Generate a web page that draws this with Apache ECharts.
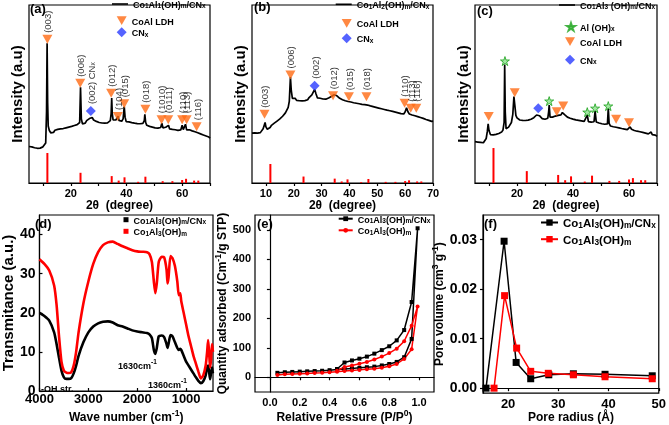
<!DOCTYPE html>
<html>
<head>
<meta charset="utf-8">
<script src="https://cdn.jsdelivr.net/npm/echarts/dist/echarts.min.js"></script>
<style>
  html, body { margin: 0; padding: 0; background: #fff; }
  #chart { width: 669px; height: 425px; }
</style>
</head>
<body>
<div id="chart"></div>
<script>
  // XRD patterns (2theta, intensity a.u.)
  const aCurve = [[5,20.5],[5.5,19.6],[6,20.3],[6.5,19.4],[7,19.8],[7.5,18.9],[8,19.5],[8.5,18.7],[9,19.6],[9.5,19.2],[10,20.3],[10.5,20.6],[11,22.5],[11.3,40],[11.5,78.5],[11.7,45],[11.9,32],[12.3,29.5],[12.8,28.2],[13.3,29.3],[13.8,28.4],[14.3,29.6],[14.8,28.9],[15.3,30.1],[15.8,29.2],[16.3,30.4],[16.8,29.5],[17.3,30.6],[17.8,29.8],[18.3,31],[18.8,30.2],[19.3,31.4],[19.8,30.7],[20.3,31.8],[20.8,31],[21.3,32.3],[21.8,31.6],[22.3,32.8],[22.8,32.3],[23.2,34],[23.5,53.8],[23.8,36],[24.2,33.2],[24.7,34.3],[25.2,33.6],[25.7,35],[26.2,34.6],[26.7,36.2],[27.2,35.7],[27.7,36.8],[28.2,35.4],[28.7,35.8],[29.2,34.6],[29.7,35.1],[30.2,34],[30.7,34.6],[31.2,33.7],[31.7,34.4],[32.2,33.6],[32.7,34.5],[33.2,33.8],[33.7,34.9],[34.2,35],[34.5,39],[34.7,47.8],[34.9,39],[35.2,35.5],[35.7,34.6],[36.2,35.4],[36.7,35.8],[37,37.5],[37.3,35.2],[37.8,35.8],[38.3,34.7],[38.8,36],[39.2,43],[39.5,37],[39.9,34.5],[40.4,33.6],[40.9,34.3],[41.4,33.2],[41.9,33.9],[42.4,32.9],[42.9,33.6],[43.4,32.7],[43.9,33.4],[44.4,32.6],[44.9,33.3],[45.4,32.5],[45.9,33.5],[46.4,35],[46.6,38.6],[46.9,34],[47.3,32.4],[47.8,32.9],[48.3,31.8],[48.8,32.4],[49.3,31.4],[49.8,32],[50.3,31],[50.8,31.7],[51.3,30.8],[51.8,31.5],[52.3,31.2],[52.7,33.6],[53.1,31],[53.6,30.6],[54.1,31.3],[54.6,30.8],[55.1,32.4],[55.5,30.4],[56,31],[56.5,30.1],[57,30.7],[57.5,29.9],[58,30.5],[58.5,29.6],[59,30.3],[59.5,29.8],[60,32.4],[60.4,30],[60.9,30.6],[61.2,33],[61.6,29.8],[62.1,29.4],[62.6,29.9],[63.1,28.8],[63.6,29.3],[64.1,28.3],[64.6,28.8],[65.1,27.8],[65.6,28.2],[66.1,27.2],[66.6,27.6],[67.1,26.6],[67.6,27],[68.1,26],[68.6,26.4],[69.1,25.4],[69.6,25.8],[70,25.2]];
  const bCurve = [[5,28],[5.5,27.3],[6,28.2],[6.5,27.4],[7,28],[7.5,27.2],[8,28.3],[8.5,28.8],[9,30.5],[9.4,32.5],[9.7,34],[10,31.5],[10.5,30.2],[11,30.8],[11.5,31.2],[12,32.4],[12.5,32.2],[13,33.6],[13.5,33.4],[14,34.8],[14.5,34.6],[15,36],[15.5,36.2],[16,37.5],[16.5,37.8],[17,39.4],[17.5,40.2],[18,42.5],[18.4,46],[18.8,59.5],[19.1,52],[19.5,47.5],[20,46.8],[20.5,47.6],[21,46.4],[21.5,47.3],[22,46.2],[22.5,47],[23,46.1],[23.5,47.1],[24,46.3],[24.5,47.4],[25,46.8],[25.5,48],[26,47.9],[26.5,49.5],[27,50.5],[27.5,52.6],[28,50],[28.5,47.8],[29,47],[29.5,47.6],[30,46.5],[30.5,47.2],[31,46.4],[31.5,47.1],[32,46.8],[32.5,47.8],[33,47.5],[33.5,48.6],[34,48.3],[34.5,49.6],[35,49.8],[35.5,49],[36,48.4],[36.5,47.6],[37,47.8],[37.5,46.8],[38,47.2],[38.5,46.2],[39,46.8],[39.5,45.8],[40,46.4],[40.5,45.5],[41,46],[41.5,45.1],[42,45.7],[42.5,44.8],[43,45.4],[43.5,44.5],[44,45.1],[44.5,44.2],[45,44.9],[45.5,44],[46,44.8],[46.5,43.8],[47,44.3],[47.5,43.3],[48,43.8],[48.5,42.9],[49,43.4],[49.5,42.5],[50,43],[50.5,42.1],[51,42.6],[51.5,41.7],[52,42.2],[52.5,41.3],[53,41.8],[53.5,40.9],[54,41.5],[54.5,40.6],[55,41.1],[55.5,40.2],[56,40.7],[56.5,39.8],[57,40.3],[57.5,39.4],[58,39.9],[58.5,39],[59,39.5],[59.5,38.8],[60,40],[60.5,42.2],[61,40],[61.5,38.8],[62,39.2],[62.5,38.2],[63,38.7],[63.5,37.8],[64,38.2],[64.5,37.3],[65,37.7],[65.5,36.8],[66,37.2],[66.5,36.3],[67,36.6],[67.5,35.7],[68,36.1],[68.5,35.2],[69,35.5],[69.5,34.6],[70,34.8]];
  const cCurve = [[5,23.2],[5.5,22.5],[6,23],[6.5,22.2],[7,22.8],[7.5,22],[8,22.6],[8.5,23],[9,25],[9.4,29],[9.7,33.2],[10,29.5],[10.5,27.2],[11,27.6],[11.5,27],[12,27.8],[12.5,27.3],[13,28.2],[13.5,27.8],[14,28.8],[14.5,28.6],[15,29.8],[15.4,34],[15.6,66.5],[15.8,40],[16.1,30.5],[16.5,30.8],[17,31.4],[17.5,32.3],[18,34],[18.5,38.5],[18.9,48.5],[19.2,44],[19.6,38],[20,36.6],[20.5,36.2],[21,35.4],[21.5,36],[22,35.2],[22.5,35.8],[23,35.1],[23.5,35.7],[24,35.3],[24.5,36.2],[25,35.8],[25.5,36.8],[26,36.7],[26.5,37.8],[27,38.2],[27.5,39.3],[28,37.8],[28.5,36.8],[29,36.2],[29.5,36.6],[30,35.8],[30.5,36.5],[31,36.4],[31.3,40],[31.5,43.8],[31.8,37],[32.2,36.4],[32.7,37],[33.2,36.6],[33.7,37.6],[34.2,38.6],[34.7,38],[35.2,38.8],[35.7,38.3],[36.2,39.6],[36.6,40.6],[37,38.4],[37.5,37.4],[38,37],[38.5,36.2],[39,36.4],[39.5,35.5],[40,35.9],[40.5,35],[41,35.5],[41.5,34.6],[42,35.2],[42.5,34.3],[43,34.9],[43.5,34],[44,34.6],[44.6,34.4],[45.1,38.2],[45.5,34.5],[46,33.8],[46.5,34.2],[47,33.6],[47.5,34.4],[47.9,40.4],[48.3,34.3],[48.8,33.2],[49.3,33.7],[49.8,32.8],[50.3,33.3],[50.8,32.5],[51.3,33],[51.8,32.3],[52.3,33.2],[52.6,42],[52.9,33.5],[53.4,32],[53.9,32.4],[54.4,31.6],[54.9,32.2],[55.4,31.3],[55.9,31.8],[56.4,31],[56.9,31.4],[57.4,30.6],[57.9,31.1],[58.4,30.3],[58.9,30.7],[59.4,30],[59.9,30.9],[60.4,31.5],[60.9,30.2],[61.4,30.1],[61.9,29.5],[62.4,29.9],[62.9,29.1],[63.4,29.5],[63.9,28.8],[64.4,29.2],[64.9,28.4],[65.4,28.8],[65.9,28],[66.4,28.4],[66.9,27.6],[67.4,28],[67.9,28.6],[68.3,27.2],[68.9,26.8],[69.4,26.9],[70,26.2]];

  // reference pattern sticks (2theta, relative intensity %)
  const refPos = [11.6, 23.5, 34.7, 37.2, 39.3, 44.2, 46.8, 53.0, 56.5, 60.0, 61.4, 64.3, 65.8];
  const refRel = [100, 34, 23, 8, 19, 4, 21, 6, 6, 10, 14, 8, 8];

  // peak markers [2theta, intensity, label]
  const aTri = [[11.6,80.7,'(003)'],[23.4,56,'(006)'],[34.5,50.4,'(012)'],[36.9,37.3,'(104)'],[39.2,44.5,'(015)'],[46.8,41.4,'(018)'],[52.6,35.6,'(1010)'],[55,35.6,'(0111)'],[60,35.6,'(110)'],[61.6,35.6,'(113)'],[65.2,31.6,'(116)']];
  const aDia = [[27.2,40.4,'(002) CN_x']];
  const bTri = [[9.5,38.6,'(003)'],[18.8,60.7,'(006)'],[34.1,49,'(012)'],[39.8,48.5,'(015)'],[46.1,48.5,'(018)'],[59.8,44.8,'(110)'],[62,42,'(113)'],[64,42,'(116)']];
  const bDia = [[27.5,54.7,'(002)']];
  const cTri = [[9.9,37.3,''],[19.2,50.7,''],[34.2,40,''],[36.5,43.3,''],[55.4,35.8,''],[60,33.9,'']];
  const cDia = [[27.6,42,'']];
  const cStar = [[15.7,68.5,''],[31.5,46,''],[45.1,39.8,''],[47.9,42,''],[52.6,43.2,'']];

  // FTIR (wave number cm-1, transmitance)
  const dWave = [4000,3900,3800,3700,3650,3600,3550,3500,3450,3400,3350,3300,3250,3200,3100,3000,2900,2800,2700,2600,2500,2400,2300,2200,2100,2000,1900,1800,1750,1700,1660,1630,1600,1560,1500,1450,1400,1380,1360,1320,1280,1230,1180,1150,1120,1100,1050,1000,950,900,850,800,750,700,650,600,570,550,530,510,490,470,460,450];
  const dBlack = [20,19.2,18,15,12,8.5,5.2,3.5,3.1,3.1,3.3,4.5,6.5,9,12.5,15,16.5,17.3,17.7,17.8,17.5,16.8,16.5,16,15.5,15.2,15,14.8,14.5,13.5,10.5,9.5,11,14,14.2,13.8,12,11,12,14.3,14,12.5,11,10.5,10.8,10.5,9,7.5,6.5,5.5,4.5,3.5,2.6,2,2.5,4,6,6.5,5,3,4.5,6,5,4.5];
  const dRed = [33.7,32.5,30.8,27,22,14,7.5,5.2,4.7,4.6,4.8,6.5,10,15,22.5,28,32.5,35.5,37.3,38,38.2,37.6,37,36.5,36,35.7,35.6,35.5,35,33,28,25,27.5,33,34.3,34.2,31,27.5,29,34.5,34,32,28,24.5,25,23,20,17,14,11.5,9,7,5,3.2,4,6.5,10,13,10,6,8,12,11,10];

  // N2 isotherms (P/P0, quantity adsorbed)
  const eBlackAds = [[0.05,15],[0.1,17],[0.15,18],[0.2,19],[0.25,20],[0.3,21],[0.35,22],[0.4,24],[0.45,26],[0.5,28],[0.55,30],[0.6,32],[0.65,34],[0.7,36],[0.75,40],[0.8,45],[0.85,52],[0.9,68],[0.95,130],[0.99,505]];
  const eBlackDes = [[0.95,255],[0.9,160],[0.85,125],[0.8,105],[0.75,92],[0.7,80],[0.65,70],[0.6,63],[0.55,57],[0.5,50],[0.45,28]];
  const eRedAds = [[0.05,8],[0.1,10],[0.15,11],[0.2,12],[0.25,13],[0.3,14],[0.35,15],[0.4,17],[0.45,19],[0.5,21],[0.55,23],[0.6,25],[0.65,27],[0.7,29],[0.75,32],[0.8,37],[0.85,45],[0.9,62],[0.95,95],[0.99,240]];
  const eRedDes = [[0.95,175],[0.9,122],[0.85,97],[0.8,82],[0.75,70],[0.7,60],[0.65,52],[0.6,46],[0.55,40],[0.5,35],[0.45,22]];

  // pore size distribution (radius A, volume)
  const fBlack = [[15.6,0],[19.2,0.0297],[21.6,0.0052],[24.5,0.0019],[28.1,0.0027],[33,0.0029],[39.3,0.0028],[48.7,0.0025]];
  const fRed = [[17.2,0],[19.3,0.0187],[21.7,0.0081],[24.5,0.0034],[28,0.0030],[33,0.0027],[39.3,0.0023],[48.7,0.0019]];

  const legendText = {
    aLine: 'Co_1Al_1(OH)_m/CN_x', aTri: 'CoAl LDH', aDia: 'CN_x',
    bLine: 'Co_1Al_2(OH)_m/CN_x', bTri: 'CoAl LDH', bDia: 'CN_x',
    cLine: 'Co_1Al_3 (OH)_m/CN_x', cStar: 'Al (OH)_x', cTri: 'CoAl LDH', cDia: 'CN_x',
    dBlack: 'Co_1Al_3(OH)_m/CN_x', dRed: 'Co_1Al_3(OH)_m',
    eBlack: 'Co_1Al_3(OH)_m/CN_x', eRed: 'Co_1Al_3(OH)_m',
    fBlack: 'Co_1Al_3(OH)_m/CN_x', fRed: 'Co_1Al_3(OH)_m'
  };

  const FF = "'Liberation Sans', Arial, sans-serif";
  const TRI = 'path://M0,0L10,0L5,8.7Z';
  const STAR = 'path://M5,0L6.2,3.6L10,3.6L6.9,5.8L8.1,9.5L5,7.2L1.9,9.5L3.1,5.8L0,3.6L3.8,3.6Z';
  const BAR = 'path://M0,0L16,0L16,1.6L0,1.6Z';
  const ORANGE = '#ff6a13';
  const BLUE = '#2a3cff';

  // rich text styles: n normal, b subscript, p superscript
  function rs(fs, fw) {
    const s = Math.round(fs * 0.72 * 10) / 10;
    return {
      n: { fontSize: fs, fontWeight: fw, fontFamily: FF, color: '#000', lineHeight: fs + 3, verticalAlign: 'bottom' },
      b: { fontSize: s, fontWeight: fw, fontFamily: FF, color: '#000', lineHeight: s + 1, verticalAlign: 'bottom' },
      p: { fontSize: s, fontWeight: fw, fontFamily: FF, color: '#000', lineHeight: s + 1, verticalAlign: 'top' }
    };
  }
  function rich(s) {
    let out = '';
    let i = 0;
    while (i < s.length) {
      const c = s[i];
      if (c === '_' || c === '^') {
        let t;
        if (s[i + 1] === '{') { const j = s.indexOf('}', i); t = s.slice(i + 2, j); i = j + 1; }
        else { t = s[i + 1]; i += 2; }
        out += '{' + (c === '_' ? 'b' : 'p') + '|' + t + '}';
      } else {
        let j = i;
        while (j < s.length && s[j] !== '_' && s[j] !== '^') j++;
        out += '{n|' + s.slice(i, j) + '}';
        i = j;
      }
    }
    return out;
  }

  const chart = echarts.init(document.getElementById('chart'));

  const grids = [
    { left: 29, top: 5, width: 181, height: 178 },
    { left: 252, top: 5, width: 181, height: 178 },
    { left: 475, top: 5, width: 182, height: 178 },
    { left: 32, top: 215, width: 181, height: 181 },
    { left: 255, top: 215, width: 179, height: 181 },
    { left: 483, top: 215, width: 179, height: 181 }
  ].map(g => Object.assign(g, { show: true, borderColor: '#000', borderWidth: 1.2 }));

  const line = { show: true, lineStyle: { color: '#000', width: 1.2 } };
  function lab(fs, margin, vals, fmt) {
    return {
      customValues: vals, margin: margin, fontSize: fs, fontWeight: 'bold', color: '#000', fontFamily: FF,
      formatter: fmt || (v => String(v))
    };
  }
  function tick(vals, len, inside) {
    return { customValues: vals, length: len, inside: !!inside, lineStyle: { color: '#000', width: 1.2 } };
  }
  const nameStyle = fs => ({ fontSize: fs, fontWeight: 'bold', color: '#000', fontFamily: FF });

  const xrdX = (i, labels, ticks) => ({
    gridIndex: i, type: 'value', min: 5, max: 70,
    axisLine: line, splitLine: { show: false },
    axisLabel: lab(11, 5, labels), axisTick: tick(ticks, 3),
    name: '2θ  (degree)', nameLocation: 'middle', nameGap: 13, nameTextStyle: nameStyle(12)
  });
  const xrdY = (i) => ({
    gridIndex: i, type: 'value', min: 0, max: 100,
    axisLine: { show: false }, axisTick: { show: false }, axisLabel: { show: false }, splitLine: { show: false },
    name: 'Intensity (a.u)', nameLocation: 'middle', nameGap: 4, nameTextStyle: nameStyle(15)
  });
  const stickY = (i, max) => ({ gridIndex: i, type: 'value', min: 0, max: max, show: false, splitLine: { show: false } });

  const xAxis = [
    xrdX(0, [20, 40, 60], [10, 20, 30, 40, 50, 60, 70]),
    xrdX(1, [10, 20, 30, 40, 50, 60, 70], [10, 20, 30, 40, 50, 60, 70]),
    xrdX(2, [20, 40, 60], [10, 20, 30, 40, 50, 60, 70]),
    {
      gridIndex: 3, type: 'value', min: 450, max: 4000, inverse: true,
      axisLine: line, splitLine: { show: false },
      axisLabel: lab(13, 2, [4000, 3000, 2000, 1000]), axisTick: tick([4000, 3000, 2000, 1000], 3, true),
      name: rich('Wave number (cm^{-1})'), nameLocation: 'middle', nameGap: 18,
      nameTextStyle: { rich: rs(12, 'bold') }
    },
    {
      gridIndex: 4, type: 'value', min: -0.1, max: 1.1,
      axisLine: line, splitLine: { show: false },
      axisLabel: lab(11, 5, [0, 0.2, 0.4, 0.6, 0.8, 1.0], v => v.toFixed(1)), axisTick: tick([0, 0.2, 0.4, 0.6, 0.8, 1.0], 3),
      name: rich('Relative Pressure (P/P^0)'), nameLocation: 'middle', nameGap: 17,
      nameTextStyle: { rich: rs(12, 'bold') }
    },
    {
      gridIndex: 5, type: 'value', min: 15, max: 50,
      axisLine: line, splitLine: { show: false },
      axisLabel: lab(13, 5, [20, 30, 40, 50]), axisTick: tick([20, 30, 40, 50], 3),
      name: 'Pore radius (Å)', nameLocation: 'middle', nameGap: 15, nameTextStyle: nameStyle(12)
    }
  ];

  const yAxis = [
    xrdY(0), xrdY(1), xrdY(2),
    {
      gridIndex: 3, type: 'value', min: 0, max: 45,
      axisLine: line, splitLine: { show: false },
      axisLabel: lab(14, 4, [0, 10, 20, 30, 40]), axisTick: tick([0, 10, 20, 30, 40], 3, true),
      name: 'Transmitance (a.u.)', nameLocation: 'middle', nameGap: 19, nameTextStyle: nameStyle(15)
    },
    {
      gridIndex: 4, type: 'value', min: -50, max: 550,
      axisLine: line, splitLine: { show: false },
      axisLabel: lab(11, 4, [0, 100, 200, 300, 400, 500]), axisTick: tick([0, 100, 200, 300, 400, 500], 3),
      name: rich('Quantity adsorbed (Cm^{-1}/g STP)'), nameLocation: 'middle', nameGap: 21,
      nameTextStyle: { rich: rs(12, 'bold') }
    },
    {
      gridIndex: 5, type: 'value', min: -0.001, max: 0.035,
      axisLine: line, splitLine: { show: false },
      axisLabel: lab(14, 6, [0, 0.01, 0.02, 0.03], v => v.toFixed(2)), axisTick: tick([0, 0.01, 0.02, 0.03], 3),
      name: rich('Pore volume (cm^3 g^{-1})'), nameLocation: 'middle', nameGap: 31,
      nameTextStyle: { rich: rs(12, 'bold') }
    },
    stickY(0, 593), stickY(1, 937), stickY(2, 509)
  ];

  const series = [];
  const peakLabel = {
    show: true, position: 'top', distance: 2, rotate: 90, align: 'left', verticalAlign: 'middle',
    formatter: p => p.name ? rich(p.name) : '', rich: rs(9.5, 'normal')
  };
  const pts = arr => arr.map(t => ({ value: [t[0], t[1]], name: t[2] }));

  [['a', aCurve, aTri, aDia, null], ['b', bCurve, bTri, bDia, null], ['c', cCurve, cTri, cDia, cStar]].forEach((p, i) => {
    const k = p[0];
    series.push({
      name: k + 'Line', type: 'line', xAxisIndex: i, yAxisIndex: i, data: p[1],
      symbol: 'none', color: '#000', lineStyle: { width: 1.7 }, z: 3
    });
    series.push({
      name: k + 'Stick', type: 'bar', xAxisIndex: i, yAxisIndex: 6 + i,
      data: refPos.map((x, j) => [x, refRel[j]]), barWidth: 2, color: '#ff0000'
    });
    series.push({
      name: k + 'Tri', type: 'scatter', xAxisIndex: i, yAxisIndex: i, data: pts(p[2]),
      symbol: TRI, symbolSize: [10, 9], color: ORANGE, label: peakLabel, z: 4
    });
    series.push({
      name: k + 'Dia', type: 'scatter', xAxisIndex: i, yAxisIndex: i, data: pts(p[3]),
      symbol: 'diamond', symbolSize: [10, 10], color: BLUE, label: peakLabel, z: 4
    });
    if (p[4]) {
      series.push({
        name: k + 'Star', type: 'scatter', xAxisIndex: i, yAxisIndex: i, data: pts(p[4]),
        symbol: STAR, symbolSize: [9, 9], color: '#8be08b',
        itemStyle: { borderColor: '#1aa11a', borderWidth: 1 }, z: 4
      });
    }
  });

  series.push(
    { name: 'dBlack', type: 'line', xAxisIndex: 3, yAxisIndex: 3, data: dWave.map((w, j) => [w, dBlack[j]]),
      symbol: 'none', smooth: 0.2, color: '#000', lineStyle: { width: 2.6 } },
    { name: 'dRed', type: 'line', xAxisIndex: 3, yAxisIndex: 3, data: dWave.map((w, j) => [w, dRed[j]]),
      symbol: 'none', smooth: 0.2, color: '#ff0000', lineStyle: { width: 2.6 } },
    { name: 'eBlack', type: 'line', xAxisIndex: 4, yAxisIndex: 4, data: eBlackAds.concat(eBlackDes),
      symbol: 'rect', symbolSize: 4, color: '#000', lineStyle: { width: 1.5 } },
    { name: 'eRed', type: 'line', xAxisIndex: 4, yAxisIndex: 4, data: eRedAds.concat(eRedDes),
      symbol: 'circle', symbolSize: 4, color: '#ff0000', lineStyle: { width: 1.5 } },
    { name: 'fBlack', type: 'line', xAxisIndex: 5, yAxisIndex: 5, data: fBlack,
      symbol: 'rect', symbolSize: 7, color: '#000', lineStyle: { width: 1.5 } },
    { name: 'fRed', type: 'line', xAxisIndex: 5, yAxisIndex: 5, data: fRed,
      symbol: 'rect', symbolSize: 7, color: '#ff0000', lineStyle: { width: 1.5 } }
  );

  // legend rows: name, left, centre y, icon w, icon h, font size, icon
  const legendRows = [
    ['aLine', 112, 7, 16, 2, 9, BAR], ['aTri', 116.7, 22.3, 10, 9, 9, TRI], ['aDia', 116.7, 33.3, 10, 10, 9, 'diamond'],
    ['bLine', 335.7, 7.3, 16, 2, 9, BAR], ['bTri', 341.7, 25, 10, 9, 9, TRI], ['bDia', 341.7, 39.3, 10, 10, 9, 'diamond'],
    ['cLine', 559, 8, 16, 2, 9, BAR], ['cStar', 566, 28, 8, 8, 9, STAR], ['cTri', 565, 43.3, 10, 9, 9, TRI], ['cDia', 565, 60.7, 10, 10, 9, 'diamond'],
    ['dBlack', 123.5, 222.7, 5, 5, 9, 'rect'], ['dRed', 123.5, 234.3, 5, 5, 9, 'rect'],
    ['eBlack', 337.7, 221.7, 14, 6, 9, null], ['eRed', 337.7, 233.3, 14, 6, 9, null],
    ['fBlack', 540, 225, 17, 8, 11.5, null], ['fRed', 540, 241.7, 17, 8, 11.5, null]
  ];
  const legend = legendRows.map(r => ({
    data: [r[6] ? { name: r[0], icon: r[6] } : r[0]],
    left: r[1], top: r[2] - Math.max(r[4], r[5] + 3) / 2,
    itemWidth: r[3], itemHeight: r[4], padding: 0, selectedMode: false,
    formatter: n => rich(legendText[n]),
    textStyle: { rich: rs(r[5], 'bold') }
  }));

  const txt = (text, left, top, fs) => ({
    type: 'text', left: left, top: top,
    style: { text: text, rich: rs(fs, 'bold'), fill: '#000' }
  });

  chart.setOption({
    animation: false,
    backgroundColor: '#fff',
    grid: grids,
    xAxis: xAxis,
    yAxis: yAxis,
    legend: legend,
    series: series,
    graphic: [
      txt('{n|(a)}', 30, 3, 13),
      txt('{n|(b)}', 254, 1, 13),
      txt('{n|(c)}', 477, 5, 13),
      txt('{n|(d)}', 35, 218, 13),
      txt('{n|(e)}', 257, 218, 13),
      txt('{n|(f)}', 484, 218, 13),
      txt(rich('-OH str.'), 41, 385, 9),
      txt(rich('1630cm^{-1}'), 118, 359, 9),
      txt(rich('1360cm^{-1}'), 148, 378, 9)
    ]
  });
</script>
</body>
</html>
